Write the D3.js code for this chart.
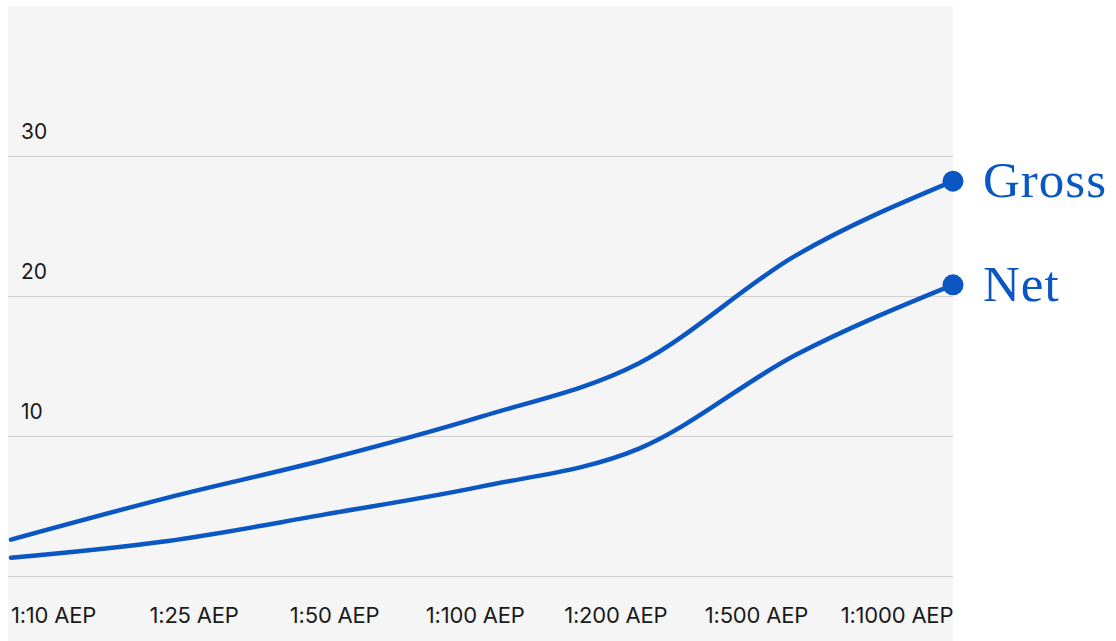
<!DOCTYPE html>
<html>
<head>
<meta charset="utf-8">
<script src="https://cdn.jsdelivr.net/npm/d3@7"></script>
<style>
  html, body { margin: 0; padding: 0; background: #ffffff; }
  svg { display: block; }
</style>
</head>
<body>
<svg id="chart" width="1116" height="641"></svg>
<script>
// Return-period categories along the x axis
const categories = ["1:10 AEP", "1:25 AEP", "1:50 AEP", "1:100 AEP", "1:200 AEP", "1:500 AEP", "1:1000 AEP"];
// Loss estimates per return period
const grossValues = [2.6, 5.6, 8.3, 11.4, 15.2, 22.9, 28.2];
const netValues = [1.3, 2.5, 4.4, 6.4, 9.1, 15.8, 20.8];
const yTicks = [10, 20, 30];
const seriesNames = ["Gross", "Net"];

const W = 1116, H = 641;
const panel = { x0: 8, x1: 953, y0: 6 };
const blue = "#0a57c4";

const svg = d3.select("#chart");

// Plot background panel
svg.append("rect")
  .attr("x", panel.x0).attr("y", panel.y0)
  .attr("width", panel.x1 - panel.x0).attr("height", H - panel.y0)
  .attr("fill", "#f5f5f5");

const x = d3.scalePoint().domain(categories).range([11, 953]);
const xLabel = d3.scalePoint().domain(categories).range([53.5, 897]);
const y = d3.scaleLinear().domain([0, 30]).range([576, 156]);

// Horizontal gridlines, including the baseline
svg.append("g")
  .selectAll("line")
  .data([0, ...yTicks])
  .join("line")
  .attr("x1", panel.x0).attr("x2", panel.x1)
  .attr("y1", d => y(d) + 0.5).attr("y2", d => y(d) + 0.5)
  .attr("stroke", "#d0d0d0").attr("stroke-width", 1);

// Y tick labels sit above their gridlines
svg.append("g")
  .selectAll("text")
  .data(yTicks)
  .join("text")
  .attr("x", 21).attr("y", d => y(d) - 17)
  .attr("font-family", "Inter, 'Noto Sans', sans-serif")
  .attr("font-size", 21)
  .attr("fill", "#1a1a1a")
  .text(d => d);

// X category labels
svg.append("g")
  .selectAll("text")
  .data(categories)
  .join("text")
  .attr("x", d => xLabel(d)).attr("y", 623)
  .attr("text-anchor", "middle")
  .attr("font-family", "Inter, 'Noto Sans', sans-serif")
  .attr("font-size", 22)
  .attr("letter-spacing", -0.2)
  .attr("fill", "#1a1a1a")
  .text(d => d);

const line = d3.line()
  .x((d, i) => x(categories[i]))
  .y(d => y(d))
  .curve(d3.curveMonotoneX);

const series = [
  { name: seriesNames[0], values: grossValues },
  { name: seriesNames[1], values: netValues }
];

const g = svg.append("g");
series.forEach(s => {
  g.append("path")
    .attr("d", line(s.values))
    .attr("fill", "none")
    .attr("stroke", blue)
    .attr("stroke-width", 4.5)
    .attr("stroke-linecap", "round");

  const last = s.values[s.values.length - 1];
  const lx = x(categories[categories.length - 1]);
  g.append("circle")
    .attr("cx", lx).attr("cy", y(last))
    .attr("r", 10.5)
    .attr("fill", blue);

  g.append("text")
    .attr("x", lx + 30).attr("y", y(last) + 16)
    .attr("font-family", "'Liberation Serif', 'DejaVu Serif', serif")
    .attr("font-size", 51)
    .attr("letter-spacing", 1)
    .attr("fill", blue)
    .text(s.name);
});
</script>
</body>
</html>
